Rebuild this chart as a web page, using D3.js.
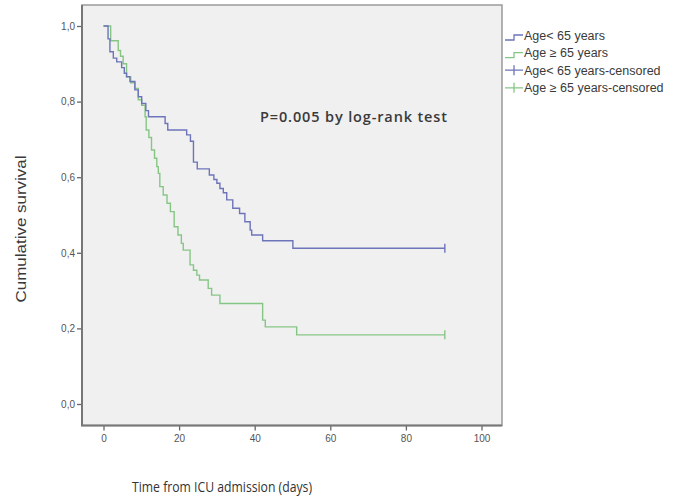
<!DOCTYPE html>
<html>
<head>
<meta charset="utf-8">
<script src="https://cdn.jsdelivr.net/npm/d3@7"></script>
<style>
  body { margin: 0; background: #fff; }
  svg { display: block; }
  .tick text { font-family: "Liberation Sans", Arial, sans-serif; font-size: 10px; fill: #555; }
  .lab { font-family: "Liberation Sans Narrow", "Liberation Sans", sans-serif; fill: #3a3a3a; }
</style>
</head>
<body>
<div id="chart"></div>
<script>
// Kaplan-Meier survival by age group

var WIDTH = 683;
var HEIGHT = 499;

var X0 = 103.5, X1 = 481.5;
var Y0 = 404, Y1 = 26;

var BLUE = "#6d74b9";
var GREEN = "#86c685";

// step data: [day, cumulative survival after the event]
var young = [
    [0, 1.0], [1.2, 0.966], [1.7, 0.932], [2.6, 0.915], [3.5, 0.905], [4.8, 0.89],
    [5.5, 0.875], [6.1, 0.866], [7, 0.853], [8.3, 0.831], [9.2, 0.813], [10.1, 0.795],
    [11.2, 0.776], [11.9, 0.76], [16.3, 0.742], [17, 0.725], [22, 0.712], [23, 0.695],
    [23.8, 0.64], [24.8, 0.622], [28, 0.606], [29.2, 0.594], [30, 0.584], [30.8, 0.57],
    [31.7, 0.559], [32.6, 0.54], [34.2, 0.518], [36, 0.504], [37.4, 0.482], [38.8, 0.46],
    [39.2, 0.447], [42.1, 0.432], [50.1, 0.412]
];
var old = [
    [0, 1.0], [1.9, 0.961], [3.9, 0.935], [4.5, 0.92], [5.2, 0.9], [6.1, 0.865],
    [7.2, 0.85], [8.3, 0.835], [9.2, 0.805], [10.1, 0.79], [11, 0.76], [11.3, 0.725],
    [12, 0.705], [12.7, 0.672], [13.5, 0.65], [14.1, 0.628], [14.5, 0.61], [14.9, 0.575],
    [15.8, 0.553], [16.8, 0.531], [17.7, 0.509], [18.7, 0.469], [19.7, 0.447], [20.6, 0.425],
    [21.1, 0.407], [22.9, 0.368], [23.8, 0.354], [24.7, 0.341], [25.4, 0.328], [27.7, 0.306],
    [28.6, 0.288], [30.8, 0.266], [42.1, 0.222], [42.8, 0.204], [51.1, 0.183]
];
var censorDay = [90.3, 90.3];

var xTicks = [0, 20, 40, 60, 80, 100];
var yTicks = [0, 0.2, 0.4, 0.6, 0.8, 1.0];

var legendLabels = ["Age< 65 years", "Age \u2265 65 years",
                    "Age< 65 years-censored", "Age \u2265 65 years-censored"];

var x = d3.scaleLinear().domain([0, 100]).range([X0, X1]);
var y = d3.scaleLinear().domain([0, 1]).range([Y0, Y1]);

var svg = d3.select("#chart").append("svg")
    .attr("width", WIDTH)
    .attr("height", HEIGHT);

// plot frame
svg.append("rect")
    .attr("x", 82).attr("y", 5)
    .attr("width", 420).attr("height", 420.5)
    .attr("fill", "#f0f0f0")
    .attr("stroke", "#9a9a9a")
    .attr("stroke-width", 1.5);

var yAxis = d3.axisLeft(y).tickValues(yTicks).tickSize(5).tickPadding(2)
    .tickFormat(function(d) { return d3.format(".1f")(d).replace(".", ","); });
var gy = svg.append("g").attr("transform", "translate(82,0)").call(yAxis);
gy.select(".domain").remove();

var xAxis = d3.axisBottom(x).tickValues(xTicks).tickSize(5).tickPadding(4);
var gx = svg.append("g").attr("transform", "translate(0,425.5)").call(xAxis);
gx.select(".domain").remove();

svg.selectAll(".tick line").attr("stroke", "#666").attr("stroke-width", 1.3);

// darker left and bottom axis lines
svg.append("line").attr("x1", 82).attr("x2", 82).attr("y1", 5).attr("y2", 426)
    .attr("stroke", "#777").attr("stroke-width", 2);
svg.append("line").attr("x1", 81).attr("x2", 502).attr("y1", 425.5).attr("y2", 425.5)
    .attr("stroke", "#777").attr("stroke-width", 2);

var line = d3.line()
    .x(function(d) { return x(d[0]); })
    .y(function(d) { return y(d[1]); })
    .curve(d3.curveStepAfter);

function draw_curve(data, end, color) {
    var pts = data.concat([[end, data[data.length - 1][1]]]);
    svg.append("path")
        .attr("d", line(pts))
        .attr("fill", "none")
        .attr("stroke", color)
        .attr("stroke-width", 1.4);
    var cx = x(end), cy = y(data[data.length - 1][1]);
    svg.append("line")
        .attr("x1", cx).attr("x2", cx)
        .attr("y1", cy - 4.5).attr("y2", cy + 4.5)
        .attr("stroke", color).attr("stroke-width", 1.4);
}

draw_curve(old, censorDay[1], GREEN);
draw_curve(young, censorDay[0], BLUE);

// p-value note
svg.append("text")
    .attr("x", 260).attr("y", 122)
    .attr("font-family", "'Open Sans', sans-serif")
    .attr("font-weight", 600)
    .attr("font-size", 14.5)
    .attr("fill", "#3a3a3a")
    .attr("textLength", 187)
    .text("P=0.005 by log-rank test");

// legend
var legendColors = [BLUE, GREEN, BLUE, GREEN];
legendLabels.forEach(function(lbl, i) {
    var ly = 35 + i * 17.6;
    var g = svg.append("g");
    if (i < 2) {
        g.append("path")
            .attr("d", "M505," + (ly + 5) + "H514V" + ly + "H523")
            .attr("fill", "none").attr("stroke", legendColors[i]).attr("stroke-width", 1.3);
    } else {
        g.append("path")
            .attr("d", "M505," + ly + "H523M514," + (ly - 5) + "V" + (ly + 5))
            .attr("fill", "none").attr("stroke", legendColors[i]).attr("stroke-width", 1.3);
    }
    g.append("text")
        .attr("class", "lab")
        .attr("x", 524).attr("y", ly + 4.5)
        .attr("font-size", 12.5)
        .text(lbl);
});

// axis titles
svg.append("text")
    .attr("x", 132).attr("y", 492)
    .attr("font-family", "'Open Sans', sans-serif")
    .attr("font-weight", 500)
    .attr("font-size", 15)
    .attr("fill", "#333")
    .attr("textLength", 180)
    .attr("lengthAdjust", "spacingAndGlyphs")
    .text("Time from ICU admission (days)");

svg.append("text")
    .attr("transform", "translate(26,229) rotate(-90)")
    .attr("text-anchor", "middle")
    .attr("font-family", "'Liberation Sans', Arial, sans-serif")
    .attr("font-size", 15)
    .attr("fill", "#3a3a3a")
    .attr("textLength", 147)
    .attr("lengthAdjust", "spacingAndGlyphs")
    .text("Cumulative survival");
</script>
</body>
</html>
